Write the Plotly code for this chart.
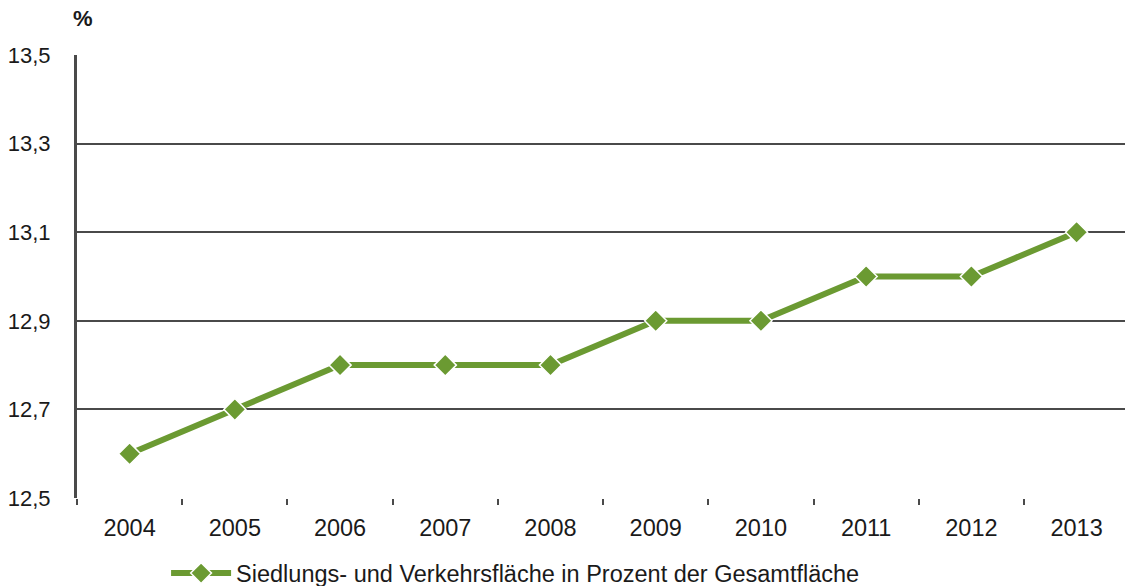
import plotly.graph_objects as go

years = ["2004", "2005", "2006", "2007", "2008", "2009", "2010", "2011", "2012", "2013"]
share = [12.6, 12.7, 12.8, 12.8, 12.8, 12.9, 12.9, 13.0, 13.0, 13.1]
y_ticks = [12.5, 12.7, 12.9, 13.1, 13.3, 13.5]
series_name = "Siedlungs- und Verkehrsfläche in Prozent der Gesamtfläche"

green = "#6b9a32"
grid = "#4a4a4a"

fig = go.Figure()
fig.add_trace(go.Scatter(
    x=years, y=share, mode="lines+markers", name=series_name,
    line=dict(color=green, width=6),
    marker=dict(symbol="diamond", size=17, color=green, line=dict(color="white", width=1.5)),
))

fig.update_layout(
    width=1125, height=586,
    paper_bgcolor="white", plot_bgcolor="white",
    margin=dict(l=77, r=0, t=55, b=88, autoexpand=False),
    font=dict(family="Liberation Sans, Arial, sans-serif", size=23, color="#1a1a1a"),
    separators=",.",
    showlegend=True,
    legend=dict(orientation="h", x=0.085, xanchor="left", y=-0.17, yanchor="middle",
                font=dict(size=23.5), itemwidth=60, bgcolor="rgba(0,0,0,0)"),
    xaxis=dict(
        type="category", range=[-0.5, 9.46],
        showgrid=False, showline=False,
        ticks="outside", ticklen=6, tickcolor=grid, tickwidth=2,
        tickson="boundaries", ticklabelstandoff=13,
        tickfont=dict(size=23.5),
    ),
    yaxis=dict(
        range=[12.5, 13.5], tickvals=y_ticks, tickformat=".1f",
        showgrid=True, gridcolor=grid, gridwidth=2,
        showline=True, linecolor=grid, linewidth=3,
        zeroline=False, ticks="", ticklabelstandoff=19,
        tickfont=dict(size=22),
    ),
    annotations=[dict(text="<b>%</b>", x=0, xref="paper", xanchor="left", xshift=-6,
                      y=1.05, yref="paper", yanchor="bottom", showarrow=False,
                      font=dict(size=22))],
)

fig.write_html("out.html")
